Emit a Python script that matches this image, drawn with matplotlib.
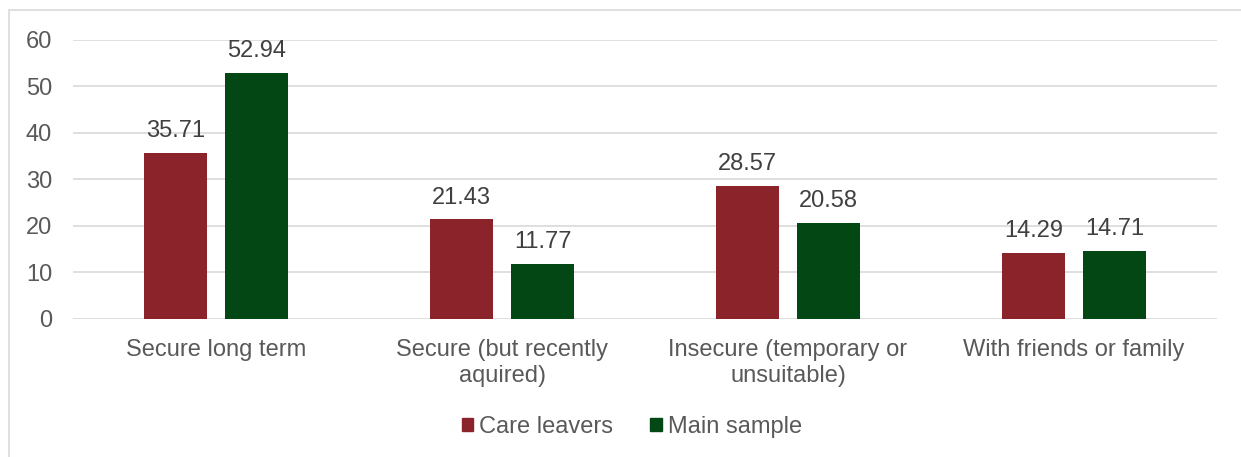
import matplotlib.pyplot as plt
import matplotlib.patches as mpatches
import numpy as np

plt.rcParams['font.family'] = ['Liberation Sans', 'DejaVu Sans']

# data
categories = ['Secure long term', 'Secure (but recently\naquired)',
              'Insecure (temporary or\nunsuitable)', 'With friends or family']
care_leavers = [35.71, 21.43, 28.57, 14.29]
main_sample = [52.94, 11.77, 20.58, 14.71]
series_names = ['Care leavers', 'Main sample']

red = '#8A242A'
green = '#034714'
txt = '#595959'
grid = '#D9D9D9'
fs = 17

fig = plt.figure(figsize=(12.41, 4.57), dpi=100)
ax = fig.add_axes([0.0588, 0.302, 0.9219, 0.6105])

# outer frame (only left and top visible)
fig.patches.append(mpatches.Rectangle((9 / 1241, -0.5), 1.5, 1.5 - 10 / 457,
                                      transform=fig.transFigure, fill=False,
                                      edgecolor=grid, linewidth=1.2))

x = np.arange(len(categories))
w = 0.22
off = 0.1416
b1 = ax.bar(x - off, care_leavers, w, color=red, label=series_names[0], zorder=3)
b2 = ax.bar(x + off, main_sample, w, color=green, label=series_names[1], zorder=3)

for bars, vals in ((b1, care_leavers), (b2, main_sample)):
    for r, v in zip(bars, vals):
        ax.text(r.get_x() + r.get_width() / 2, v + 3.4, f'{v:.2f}',
                ha='center', va='baseline', fontsize=fs, color='#404040')

ax.set_xlim(-0.5, len(categories) - 0.5)
ax.set_ylim(0, 60)
ax.set_yticks(range(0, 61, 10))
ax.set_xticks(x)
ax.set_xticklabels(categories, fontsize=fs, color=txt, linespacing=1.2)
ax.tick_params(axis='y', labelsize=fs, labelcolor=txt, length=0, pad=15)
ax.tick_params(axis='x', length=0, pad=14.5)
ax.yaxis.grid(True, color=grid, linewidth=1.2, zorder=0)
ax.set_axisbelow(True)
for s in ax.spines.values():
    s.set_visible(False)

handles = [mpatches.Patch(color=red), mpatches.Patch(color=green)]
fig.legend(handles, series_names, loc='center', bbox_to_anchor=(0.509, 0.066),
           ncol=2, frameon=False, fontsize=fs, labelcolor=txt,
           handlelength=0.5, handleheight=0.5, handletextpad=0.25,
           columnspacing=1.55)

fig.savefig('out.png', dpi=100, facecolor='white')
